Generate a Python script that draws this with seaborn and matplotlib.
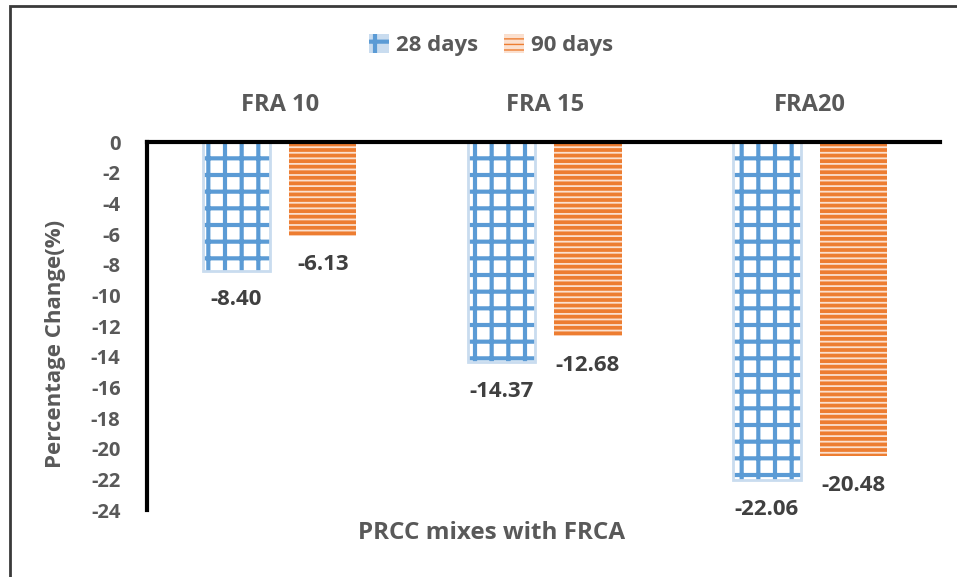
import matplotlib
matplotlib.use("Agg")
import matplotlib.pyplot as plt
from matplotlib.patches import Patch, Rectangle
import seaborn as sns
import pandas as pd

# Data
mixes = ["FRA 10", "FRA 15", "FRA20"]
ages = ["28 days", "90 days"]
change_28 = [-8.40, -14.37, -22.06]
change_90 = [-6.13, -12.68, -20.48]
y_ticks = list(range(0, -25, -2))

df = pd.DataFrame({
    "mix": mixes * 2,
    "age": [ages[0]] * 3 + [ages[1]] * 3,
    "change": change_28 + change_90,
})

sns.set_theme(style="white")
plt.rcParams["font.family"] = ["Open Sans", "DejaVu Sans"]
plt.rcParams["hatch.linewidth"] = 3.0

BLUE = "#5b9bd5"
BLUE_LIGHT = "#c9dcef"
ORANGE = "#ed7d31"
TICK_GREY = "#595959"
LABEL_DARK = "#404040"

fig = plt.figure(figsize=(9.57, 5.77), dpi=100)
ax = fig.add_axes([147 / 957, 1 - 510 / 577, (940 - 147) / 957, (510 - 142) / 577])

sns.barplot(data=df, x="mix", y="change", hue="age", order=mixes, hue_order=ages,
            width=0.65, gap=0.22, legend=False, ax=ax, errorbar=None)


def set_hatch_width(patch, lw):
    if hasattr(patch, "set_hatch_linewidth"):
        patch.set_hatch_linewidth(lw)
    else:
        patch._hatch_linewidth = lw


# Bars in hue order: first the 28-day set, then the 90-day set
n = len(mixes)
for i, bar in enumerate(ax.patches[:2 * n]):
    if i < n:
        bar.set_facecolor("white")
        bar.set_edgecolor(BLUE)
        bar.set_hatch("+")
        bar.set_linewidth(0)
        set_hatch_width(bar, 3.0)
        glow = Rectangle(bar.get_xy(), bar.get_width(), bar.get_height(),
                         fill=False, edgecolor=BLUE_LIGHT, lw=2, zorder=bar.get_zorder() + 0.1)
        ax.add_patch(glow)
    else:
        bar.set_facecolor(ORANGE)
        bar.set_edgecolor("#fbe0cf")
        bar.set_hatch("---")
        bar.set_linewidth(0)
        set_hatch_width(bar, 1.3)

# Value labels below each bar
for container in ax.containers:
    for bar, val in zip(container, container.datavalues):
        ax.annotate(f"{val:.2f}", (bar.get_x() + bar.get_width() / 2, val),
                    xytext=(0, -29), textcoords="offset pixels",
                    ha="center", va="center", fontsize=16, fontweight="bold",
                    color=LABEL_DARK)

ax.set_ylim(-24, 0)
ax.set_xlim(-0.5, 2.49)
ax.set_yticks(y_ticks)
ax.set_yticklabels([str(t) for t in y_ticks])

# Category labels sit above the zero line
ax.xaxis.tick_top()
ax.tick_params(axis="x", length=0, pad=18, labelsize=17, labelcolor=TICK_GREY)
ax.tick_params(axis="y", length=0, pad=19, labelsize=14.5, labelcolor=TICK_GREY)
for lab in ax.get_xticklabels() + ax.get_yticklabels():
    lab.set_fontweight("bold")

ax.set_xlabel("")
ax.set_ylabel("Percentage Change(%)", fontsize=16, fontweight="bold",
              color=TICK_GREY)
ax.yaxis.set_label_coords(-0.102, 0.45)

for side in ["right", "bottom"]:
    ax.spines[side].set_visible(False)
for side in ["left", "top"]:
    ax.spines[side].set_color("black")
    ax.spines[side].set_linewidth(3)

fig.text(492 / 957, 1 - 533 / 577, "PRCC mixes with FRCA", ha="center", va="center",
         fontsize=17.5, fontweight="bold", color=TICK_GREY)

handles = [
    Patch(facecolor=BLUE_LIGHT, edgecolor=BLUE, hatch="+", lw=0),
    Patch(facecolor=ORANGE, edgecolor="#fbe0cf", hatch="---", lw=0),
]
fig.legend(handles, ages, loc="center", bbox_to_anchor=(491 / 957, 1 - 45 / 577),
           ncol=2, frameon=False, handlelength=0.9, handleheight=0.9,
           handletextpad=0.3, columnspacing=1.2,
           prop={"size": 16, "weight": "bold"}, labelcolor=TICK_GREY)

# Outer chart border
fig.patches.append(Rectangle((9.5 / 957, -0.1), 1.2, 1.1 - 5.5 / 577,
                             transform=fig.transFigure, fill=False,
                             edgecolor="#3a3a3a", lw=2, figure=fig))

fig.savefig("out.png", dpi=100)
